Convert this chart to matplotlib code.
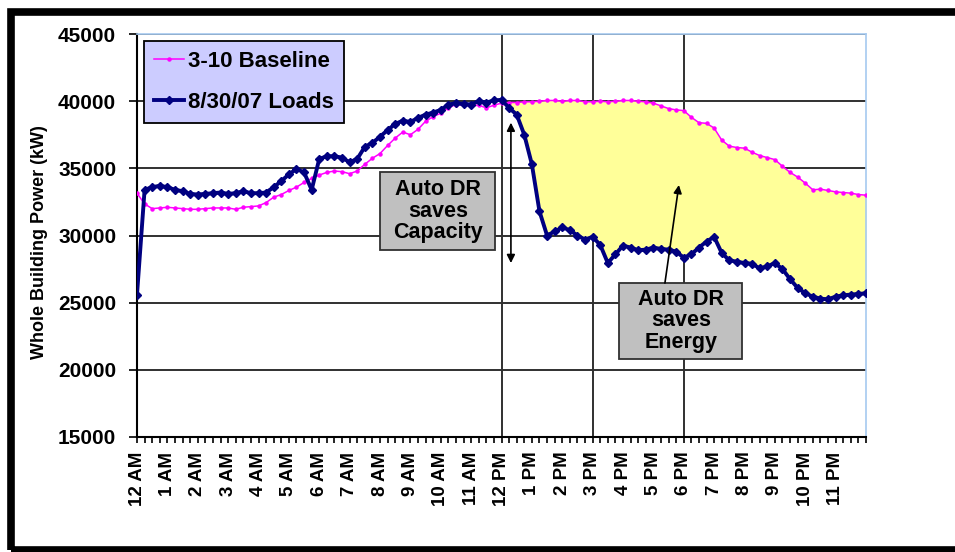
import numpy as np
from matplotlib import pyplot as plt
from matplotlib.patches import Rectangle

plt.rcParams['font.family'] = ['Liberation Sans', 'DejaVu Sans']

# data, one value every 15 minutes from 12 AM to midnight ==============
hour_labels = ['12 AM'] + [f'{h} AM' for h in range(1, 12)] + \
              ['12 PM'] + [f'{h} PM' for h in range(1, 12)]

loads = [25600, 33400, 33600, 33700,
         33600, 33400, 33300, 33100,
         33050, 33100, 33150, 33200,
         33100, 33150, 33300, 33150,
         33150, 33200, 33600, 34050,
         34550, 34950, 34700, 33400,
         35700, 35900, 35900, 35800,
         35450, 35700, 36600, 36900,
         37350, 37850, 38300, 38550,
         38450, 38750, 39000, 39150,
         39350, 39750, 39850, 39800,
         39750, 40000, 39900, 40050,
         40100, 39500, 39000, 37500,
         35300, 31800, 30000, 30300,
         30600, 30400, 30000, 29700,
         29900, 29300, 27950, 28600,
         29250, 29100, 28900, 28950,
         29100, 29000, 28950, 28800,
         28350, 28600, 29100, 29550,
         29900, 28700, 28150, 28050,
         27950, 27900, 27550, 27700,
         27950, 27500, 26750, 26100,
         25700, 25450, 25300, 25250,
         25450, 25550, 25600, 25650,
         25700]

baseline = [33150, 32350, 32000, 32050,
            32100, 32050, 32000, 31950,
            31950, 32000, 32050, 32050,
            32050, 31950, 32100, 32150,
            32200, 32450, 32850, 33050,
            33350, 33600, 33950, 34250,
            34500, 34700, 34800, 34750,
            34600, 34800, 35300, 35750,
            36100, 36700, 37250, 37700,
            37500, 37900, 38500, 38850,
            39100, 39500, 39750, 39700,
            39650, 39700, 39500, 39700,
            39850, 39900, 39900, 39950,
            39950, 40000, 40050, 40050,
            40000, 40050, 40050, 39950,
            39950, 40000, 39950, 40000,
            40050, 40050, 40000, 39950,
            39850, 39650, 39450, 39350,
            39300, 38800, 38400, 38350,
            38000, 37100, 36650, 36550,
            36500, 36200, 35950, 35800,
            35650, 35150, 34700, 34350,
            33900, 33400, 33450, 33350,
            33250, 33200, 33150, 33050,
            33000]

event_hours = [12, 15, 18]
#=======================================================================

t = np.arange(len(loads)) * 0.25
loads = np.array(loads)
baseline = np.array(baseline)

fig = plt.figure(figsize=(9.55, 5.52), dpi=100)
ax = fig.add_axes([137/955, 115/552, 729/955, 403/552])

# outer frame of the picture
fig.patches.append(Rectangle((11/955, 2.5/552), 1.0, 538/552, transform=fig.transFigure,
                             fill=False, edgecolor='black', linewidth=5.5, zorder=0))

ax.set_xlim(0, 24)
ax.set_ylim(15000, 45000)

ax.yaxis.grid(True, color='#303030', linewidth=1.4, zorder=1)
for h in event_hours:
    ax.axvline(h, color='#303030', linewidth=1.4, zorder=1)

# yellow area = saved energy during and after the event
ax.fill_between(t, loads, baseline, where=t >= 12, color='#ffff99', zorder=2, linewidth=0)

ax.plot(t, baseline, color='#ff00ff', linewidth=1.1, marker='o', markersize=2.2,
        label='3-10 Baseline', zorder=3)
ax.plot(t, loads, color='#000080', linewidth=2.8, marker='D', markersize=3.6,
        label='8/30/07 Loads', zorder=4)

ax.set_yticks(np.arange(15000, 45001, 5000))
ax.set_xticks(np.arange(24))
ax.set_xticklabels(hour_labels, rotation=90)
ax.set_xticks(t, minor=True)
ax.tick_params(axis='y', direction='out', length=6, width=1.2, pad=9,
               labelsize=15)
ax.tick_params(axis='x', which='both', direction='out', length=4.5, width=1.2, pad=6,
               labelsize=13.5)
for lab in ax.get_xticklabels() + ax.get_yticklabels():
    lab.set_fontweight('bold')

for s in ['left', 'bottom']:
    ax.spines[s].set_color('black')
    ax.spines[s].set_linewidth(1.5)
for s in ['top', 'right']:
    ax.spines[s].set_color('#a6caf0')
    ax.spines[s].set_linewidth(1.2)

ax.set_ylabel('Whole Building Power (kW)', fontsize=13, fontweight='bold')
ax.yaxis.set_label_coords(-0.122, 0.484)

leg = ax.legend(loc='upper left', bbox_to_anchor=(0.0096, 0.983), borderaxespad=0,
                prop={'size': 16, 'weight': 'bold'}, handlelength=1.35,
                handletextpad=0.2, labelspacing=0.9, borderpad=0.45,
                fancybox=False, framealpha=1, facecolor='#ccccff',
                edgecolor='black')
leg.get_frame().set_linewidth(1.3)
leg.set_zorder(6)

# text boxes
ax.add_patch(Rectangle((8.0, 28920), 3.79, 5800, facecolor='#c0c0c0',
                       edgecolor='#303030', linewidth=1.3, zorder=6))
ax.text(9.9, 31820, 'Auto DR\nsaves\nCapacity', ha='center', va='center',
        fontsize=15.5, fontweight='bold', linespacing=1.05, zorder=7)

ax.add_patch(Rectangle((15.87, 20800), 4.05, 5660, facecolor='#c0c0c0',
                       edgecolor='#303030', linewidth=1.3, zorder=6))
ax.text(17.9, 23640, 'Auto DR\nsaves\nEnergy', ha='center', va='center',
        fontsize=15.5, fontweight='bold', linespacing=1.05, zorder=7)

ax.annotate('', xy=(12.31, 38400), xytext=(12.31, 27950),
            arrowprops=dict(arrowstyle='<|-|>', color='black', lw=1.2,
                            mutation_scale=12, shrinkA=0, shrinkB=0), zorder=8)
ax.annotate('', xy=(17.84, 33760), xytext=(17.38, 26460),
            arrowprops=dict(arrowstyle='-|>', color='black', lw=1.2,
                            mutation_scale=12, shrinkA=0, shrinkB=0), zorder=8)

fig.savefig('out.png', dpi=100)
